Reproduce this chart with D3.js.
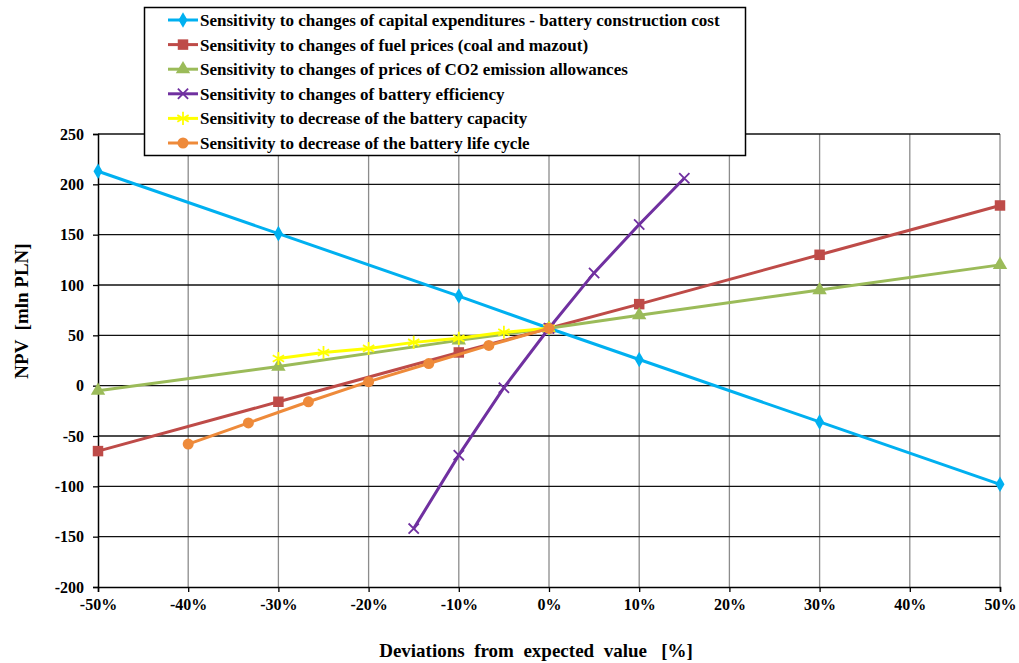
<!DOCTYPE html>
<meta charset="utf-8">
<style>
  body { margin: 0; background: #fff; }
  text { font-family: "Liberation Serif", "Times New Roman", serif; font-weight: bold; fill: #000; }
</style>
<svg></svg>
<script src="https://d3js.org/d3.v7.min.js"></script>
<script>

// deviations (%) and NPV values [mln PLN]
var xStd  = [-50, -30, -10, 0, 10, 30, 50];
var capex = [213, 151, 89, 57, 26, -36, -98];
var fuel  = [-65, -16, 33, 57, 81, 130, 179];
var co2   = [-5, 19, 45, 57, 70, 95, 120];

var xEff = [-15, -10, -5, 0, 5, 10, 15];
var eff  = [-142, -69, -2, 57, 112, 160, 206];

var xCap = [-30, -25, -20, -15, -10, -5, 0];
var cap  = [27, 33, 37, 43, 47, 53, 57];

var xLife = [-40, -33.33, -26.67, -20, -13.33, -6.67, 0];
var life  = [-58, -37, -16, 4, 22, 40, 57];

var seriesNames = [
  "Sensitivity to changes of capital expenditures - battery construction cost",
  "Sensitivity to changes of fuel prices (coal and mazout)",
  "Sensitivity to changes of prices of CO2 emission allowances",
  "Sensitivity to changes of battery efficiency",
  "Sensitivity to decrease of the battery capacity",
  "Sensitivity to decrease of the battery life cycle"
];

var xTicks = [-50, -40, -30, -20, -10, 0, 10, 20, 30, 40, 50];
var yTicks = [-200, -150, -100, -50, 0, 50, 100, 150, 200, 250];

var colors = ["#00B0F0", "#BE4B48", "#9BBB59", "#7030A0", "#FFFF00", "#EE8A3A"];
var symbols = [d3.symbolDiamond, d3.symbolSquare, d3.symbolTriangle, d3.symbolTimes, d3.symbolAsterisk, d3.symbolCircle];
var symSize = [70, 110, 90, 70, 120, 95];
var filled = [true, true, true, false, false, true];

var series = [
  { xs: xStd, ys: capex },
  { xs: xStd, ys: fuel },
  { xs: xStd, ys: co2 },
  { xs: xEff, ys: eff },
  { xs: xCap, ys: cap },
  { xs: xLife, ys: life }
].map(function(s, i) {
  return { name: seriesNames[i], color: colors[i], i: i,
    pts: s.xs.map(function(x, j) { return { x: x, y: s.ys[j] }; }) };
});

var width = 1019, height = 663;
var m = {left: 98, right: 1000, top: 134, bottom: 587};

var x = d3.scaleLinear().domain([-50, 50]).range([m.left, m.right]);
var y = d3.scaleLinear().domain([-200, 250]).range([m.bottom, m.top]);

var svg = d3.select("svg")
    .attr("width", width)
    .attr("height", height);

// vertical grid (grey)
svg.append("g").selectAll("line")
  .data(xTicks.slice(1))
  .enter().append("line")
    .attr("x1", function(d) { return x(d); })
    .attr("x2", function(d) { return x(d); })
    .attr("y1", m.top)
    .attr("y2", m.bottom)
    .attr("stroke", "#8c8c8c")
    .attr("stroke-width", 1.3);

// horizontal grid (black)
svg.append("g").selectAll("line")
  .data(yTicks.slice(1))
  .enter().append("line")
    .attr("x1", m.left)
    .attr("x2", m.right)
    .attr("y1", function(d) { return y(d); })
    .attr("y2", function(d) { return y(d); })
    .attr("stroke", "#111")
    .attr("stroke-width", 1.3);

// axes
var xAxis = svg.append("g")
    .attr("transform", "translate(0," + m.bottom + ")")
    .call(d3.axisBottom(x).tickValues(xTicks).tickSize(5).tickPadding(7)
      .tickFormat(function(d) { return d + "%"; }));

var yAxis = svg.append("g")
    .attr("transform", "translate(" + m.left + ",0)")
    .call(d3.axisLeft(y).tickValues(yTicks).tickSize(5).tickPadding(9)
      .tickFormat(function(d) { return d; }));

[xAxis, yAxis].forEach(function(a) {
  a.select(".domain").attr("stroke", "#000").attr("stroke-width", 1.5);
  a.selectAll(".tick line").attr("stroke", "#000").attr("stroke-width", 1.3);
  a.selectAll(".tick text")
    .attr("font-family", null)
    .attr("font-size", null)
    .style("font-size", "16px");
});

// series lines and markers
var line = d3.line()
    .x(function(d) { return x(d.x); })
    .y(function(d) { return y(d.y); });

function drawMarker(sel, s) {
  sel.attr("d", d3.symbol().type(symbols[s.i]).size(symSize[s.i]))
    .attr("fill", filled[s.i] ? s.color : "none")
    .attr("stroke", s.color)
    .attr("stroke-width", filled[s.i] ? 0 : 1.8);
}

series.forEach(function(s) {
  var g = svg.append("g");
  g.append("path")
    .datum(s.pts)
    .attr("fill", "none")
    .attr("stroke", s.color)
    .attr("stroke-width", 3)
    .attr("d", line);
  g.selectAll("path.mk")
    .data(s.pts)
    .enter().append("path")
      .attr("class", "mk")
      .attr("transform", function(d) { return "translate(" + x(d.x) + "," + y(d.y) + ")"; })
      .call(drawMarker, s);
});

// legend
var legend = svg.append("g");
legend.append("rect")
    .attr("x", 144.5)
    .attr("y", 7.5)
    .attr("width", 601)
    .attr("height", 148)
    .attr("fill", "#fff")
    .attr("stroke", "#000")
    .attr("stroke-width", 1.5);

var item = legend.selectAll("g.item")
  .data(series)
  .enter().append("g")
    .attr("class", "item")
    .attr("transform", function(d, i) { return "translate(0," + (20 + i * 24.6) + ")"; });

item.append("line")
    .attr("x1", 168).attr("x2", 198)
    .attr("stroke", function(d) { return d.color; })
    .attr("stroke-width", 3);

item.append("path")
    .attr("transform", "translate(183,0)")
    .each(function(d) { d3.select(this).call(drawMarker, d); });

item.append("text")
    .attr("x", 200)
    .attr("dy", "0.35em")
    .style("font-size", "17px")
    .text(function(d) { return d.name; });

// axis titles
svg.append("text")
    .attr("x", 536)
    .attr("y", 657)
    .attr("text-anchor", "middle")
    .style("font-size", "19px")
    .style("white-space", "pre")
    .text("Deviations  from  expected  value   [%]");

svg.append("text")
    .attr("transform", "translate(28,311) rotate(-90)")
    .attr("text-anchor", "middle")
    .style("font-size", "19px")
    .style("white-space", "pre")
    .text("NPV  [mln PLN]");

</script>
